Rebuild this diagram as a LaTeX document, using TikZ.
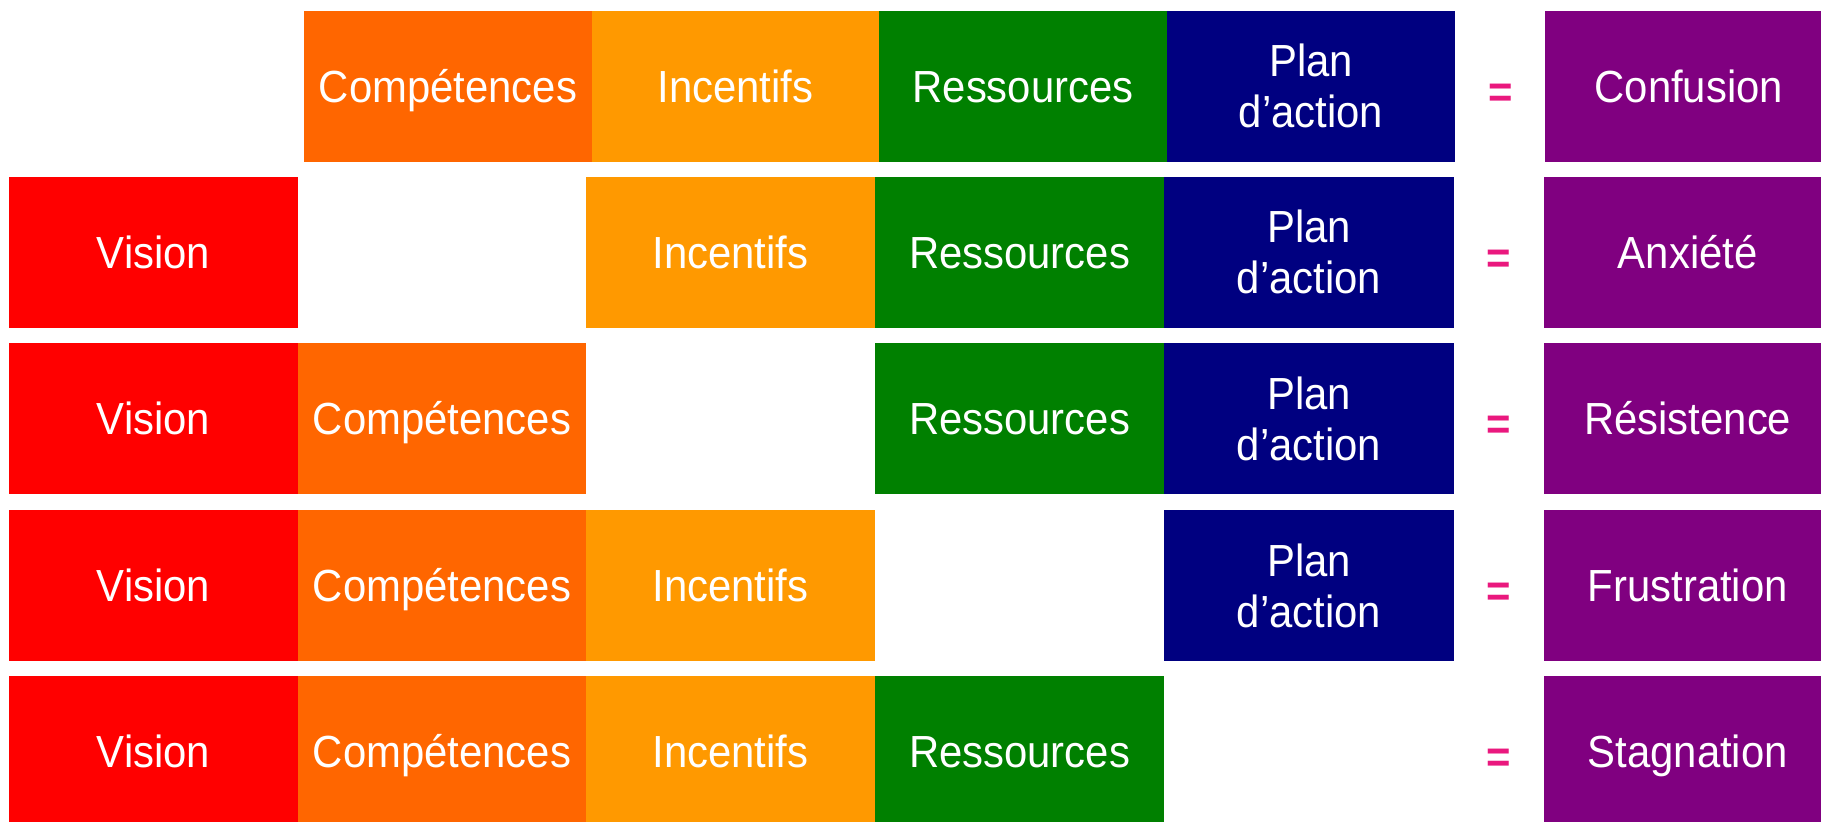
\documentclass[tikz,border=0pt]{standalone}
\usepackage{fontspec}
\setmainfont{Liberation Sans}
\newfontfamily\boxfont[FakeStretch=0.93]{Liberation Sans}
\definecolor{cVision}{RGB}{255,0,0}
\definecolor{cComp}{RGB}{255,102,0}
\definecolor{cInc}{RGB}{255,153,0}
\definecolor{cRes}{RGB}{0,128,0}
\definecolor{cPlan}{RGB}{0,0,128}
\definecolor{cOut}{RGB}{128,0,128}
\definecolor{cEq}{RGB}{234,24,126}
\begin{document}
\begin{tikzpicture}[x=1pt,y=1pt,
  cell/.style={rectangle, inner sep=0pt, minimum height=151pt, minimum width=289pt,
    text=white, font=\boxfont\fontsize{45}{51}\selectfont,
    text height=32.2pt, text depth=0pt, align=center},
  twoline/.style={cell, text height=83.2pt, text depth=0pt},
  eqsign/.style={inner sep=0pt, text=cEq, font=\boxfont\bfseries\fontsize{45}{51}\selectfont,
    text height=32.2pt, text depth=0pt}
]
\useasboundingbox (0,0) rectangle (1821,-822);
\fill[white] (0,0) rectangle (1821,-822);
\clip (0,0) rectangle (1821,-822);
% Row 1
\node[cell, fill=cComp, minimum width=288pt] (c1) at (448,-86.25) {Compétences};
\node[cell, fill=cInc, minimum width=287pt] (i1) at (735.5,-86.25) {Incentifs};
\node[cell, fill=cRes, minimum width=288pt] (r1) at (1023,-86.25) {Ressources};
\node[twoline, fill=cPlan, minimum width=288pt] (p1) at (1311,-86.25) {Plan\\d’action};
\node[eqsign] (e1) at (1500.5,-91) {=};
\node[cell, fill=cOut, minimum width=288.5pt] (o1) at (1688.75,-86.25) {Confusion};
% Row 2
\node[cell, fill=cVision] (v2) at (153.5,-252.25) {Vision};
\node[cell, fill=cInc] (i2) at (730.5,-252.25) {Incentifs};
\node[cell, fill=cRes] (r2) at (1019.5,-252.25) {Ressources};
\node[twoline, fill=cPlan, minimum width=290pt] (p2) at (1309,-252.25) {Plan\\d’action};
\node[eqsign] (e2) at (1499,-257) {=};
\node[cell, fill=cOut, minimum width=288.5pt] (o2) at (1687.75,-252.25) {Anxiété};
% Row 3
\node[cell, fill=cVision] (v3) at (153.5,-418.5) {Vision};
\node[cell, fill=cComp, minimum width=288pt] (c3) at (442,-418.5) {Compétences};
\node[cell, fill=cRes] (r3) at (1019.5,-418.5) {Ressources};
\node[twoline, fill=cPlan, minimum width=290pt] (p3) at (1309,-418.5) {Plan\\d’action};
\node[eqsign] (e3) at (1499,-423.25) {=};
\node[cell, fill=cOut, minimum width=288.5pt] (o3) at (1687.75,-418.5) {Résistence};
% Row 4
\node[cell, fill=cVision] (v4) at (153.5,-585.5) {Vision};
\node[cell, fill=cComp, minimum width=288pt] (c4) at (442,-585.5) {Compétences};
\node[cell, fill=cInc] (i4) at (730.5,-585.5) {Incentifs};
\node[twoline, fill=cPlan, minimum width=290pt] (p4) at (1309,-585.5) {Plan\\d’action};
\node[eqsign] (e4) at (1499,-590.25) {=};
\node[cell, fill=cOut, minimum width=288.5pt] (o4) at (1687.75,-585.5) {Frustration};
% Row 5
\node[cell, fill=cVision] (v5) at (153.5,-751.5) {Vision};
\node[cell, fill=cComp, minimum width=288pt] (c5) at (442,-751.5) {Compétences};
\node[cell, fill=cInc] (i5) at (730.5,-751.5) {Incentifs};
\node[cell, fill=cRes] (r5) at (1019.5,-751.5) {Ressources};
\node[eqsign] (e5) at (1499,-756.25) {=};
\node[cell, fill=cOut, minimum width=288.5pt] (o5) at (1687.75,-751.5) {Stagnation};
\end{tikzpicture}
\end{document}
